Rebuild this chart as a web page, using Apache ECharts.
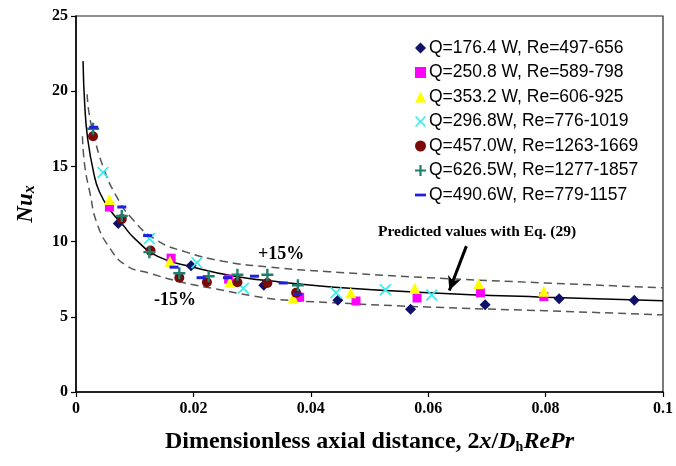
<!DOCTYPE html>
<html><head><meta charset="utf-8">
<script src="https://cdn.jsdelivr.net/npm/echarts@6/dist/echarts.min.js"></script>
<style>html,body{margin:0;padding:0;background:#fff}#c{width:676px;height:466px}</style>
</head><body><div id="c"></div>
<script>
// ---- data ----
const seriesNames = [
  'Q=176.4 W, Re=497-656',
  'Q=250.8 W, Re=589-798',
  'Q=353.2 W, Re=606-925',
  'Q=296.8W, Re=776-1019',
  'Q=457.0W, Re=1263-1669',
  'Q=626.5W, Re=1277-1857',
  'Q=490.6W, Re=779-1157'
];
const q176 = [[0.0072,11.2],[0.0196,8.4],[0.0320,7.1],[0.0446,6.1],[0.0570,5.5],[0.0697,5.8],[0.0823,6.2],[0.0951,6.1]];
const q250 = [[0.0057,12.3],[0.0162,8.9],[0.0260,7.5],[0.0381,6.3],[0.0477,6.05],[0.0581,6.25],[0.0689,6.6],[0.0797,6.35]];
const q353 = [[0.0057,12.8],[0.0160,8.7],[0.0262,7.3],[0.0370,6.25],[0.0468,6.6],[0.0577,6.9],[0.0686,7.2],[0.0797,6.7]];
const q296 = [[0.0046,14.6],[0.0125,10.2],[0.0206,8.6],[0.0285,6.9],[0.0443,6.6],[0.0527,6.8],[0.0606,6.45]];
const q457 = [[0.0029,17.0],[0.0078,11.5],[0.0127,9.4],[0.0176,7.6],[0.0223,7.3],[0.0275,7.3],[0.0326,7.25],[0.0375,6.6]];
const q626 = [[0.0029,17.5],[0.0078,11.7],[0.0125,9.3],[0.0176,7.9],[0.0226,7.7],[0.0275,7.8],[0.0326,7.8],[0.0378,7.1]];
const q490 = [[0.0030,17.6],[0.0078,12.3],[0.0122,10.4],[0.0167,8.3],[0.0213,7.6],[0.0258,7.6],[0.0304,7.7],[0.0353,7.25],[0.0378,6.5]];

const curveX = [0.0012,0.0015,0.002,0.003,0.004,0.006,0.008,0.010,0.014,0.02,0.027,0.035,0.043,0.06,0.08,0.1];
const curveY = [22,19.0,16.8,14.6,13.3,12.0,11.1,10.2,9.0,8.3,7.7,7.3,7.0,6.6,6.3,6.07];
const upperX = [0.0019,0.0022,0.0029,0.0046,0.0069,0.0096,0.0137,0.0188,0.025,0.033,0.043,0.06,0.08,0.1];
const upperY = [19.8,18.6,17.3,15.0,13.0,11.5,10.1,9.3,8.7,8.3,8.0,7.6,7.25,6.93];
const lowerX = [0.0011,0.0015,0.0024,0.0035,0.0057,0.0086,0.0125,0.018,0.0238,0.03,0.0345,0.043,0.06,0.08,0.1];
const lowerY = [17.0,15.0,13.2,11.3,9.6,8.4,7.9,7.3,6.85,6.4,6.15,5.95,5.65,5.4,5.13];

const xTicks = [0,0.02,0.04,0.06,0.08,0.1];
const yTicks = [0,5,10,15,20,25];

// ---- chart ----
const pair = (xs, ys) => xs.map((x,i)=>[x, ys[i]]);
const PLUS = 'path://M4,0H6V4H10V6H6V10H4V6H0V4H4Z';
const CROSS = 'path://M1,0L5,4L9,0L10,1L6,5L10,9L9,10L5,6L1,10L0,9L4,5L0,1Z';
const DASH = 'path://M0,0H10V3H0Z';
const styles = [
  {data:q176, symbol:'diamond', size:11, color:'#10106b'},
  {data:q250, symbol:'rect', size:9, color:'#ff00ff'},
  {data:q353, symbol:'triangle', size:11, color:'#ffff00'},
  {data:q296, symbol:CROSS, size:12, color:'#33eeee'},
  {data:q457, symbol:'circle', size:10, color:'#7a0a0a'},
  {data:q626, symbol:PLUS, size:12, color:'#1f7f6f'},
  {data:q490, symbol:DASH, size:[9,3], color:'#1f1fe0'}
];
const serif = '"Liberation Serif","Times New Roman",serif';
const sans = '"Liberation Sans",Arial,sans-serif';

const series = [
  {type:'line', name:'pred', data:pair(curveX,curveY), smooth:true, showSymbol:false, silent:true,
   lineStyle:{color:'#000', width:1.5}, z:1,
   markLine:{silent:true, symbol:['none','arrow'], symbolSize:[10,14],
     lineStyle:{color:'#000', width:3, type:'solid'}, label:{show:false},
     data:[[{coord:[0.0665,9.7]},{coord:[0.0636,6.75]}]]}},
  {type:'line', name:'up', data:pair(upperX,upperY), smooth:true, showSymbol:false, silent:true,
   lineStyle:{color:'#555', width:1.5, type:[8,5]}, z:1},
  {type:'line', name:'low', data:pair(lowerX,lowerY), smooth:true, showSymbol:false, silent:true,
   lineStyle:{color:'#555', width:1.5, type:[8,5]}, z:1}
];
styles.forEach((s,i)=>{
  series.push({type:'scatter', name:seriesNames[i], data:s.data, symbol:s.symbol, symbolSize:s.size,
    itemStyle:{color:s.color, opacity:1}, z:3});
});

const chart = echarts.init(document.getElementById('c'), null, {renderer:'canvas'});
chart.setOption({
  animation:false,
  backgroundColor:'#fff',
  grid:{left:76, right:7, top:16, bottom:74, show:true, borderColor:'#222', borderWidth:1.2, backgroundColor:'transparent'},
  xAxis:{type:'value', min:0, max:0.1, interval:0.02,
    axisLine:{show:true, onZero:false, lineStyle:{color:'#000', width:1.5}},
    axisTick:{show:true, length:5, lineStyle:{color:'#000', width:1.2}},
    splitLine:{show:false},
    axisLabel:{color:'#000', fontFamily:serif, fontWeight:'bold', fontSize:16, margin:9,
      formatter:v=>{const t=xTicks.find(k=>Math.abs(k-v)<1e-9); return t===undefined?'':String(t);}},
    name:'{a|Dimensionless axial distance, 2}{i|x}{a|/}{i|D}{s|h}{i|RePr}',
    nameLocation:'middle', nameGap:37,
    nameTextStyle:{rich:{
      a:{fontFamily:serif, fontWeight:'bold', fontSize:24, color:'#000'},
      i:{fontFamily:serif, fontWeight:'bold', fontStyle:'italic', fontSize:24, color:'#000'},
      s:{fontFamily:serif, fontWeight:'bold', fontSize:14, color:'#000', padding:[11,0,0,0]}
    }}},
  yAxis:{type:'value', min:0, max:25, interval:5,
    axisLine:{show:true, onZero:false, lineStyle:{color:'#000', width:1.5}},
    axisTick:{show:true, length:5, lineStyle:{color:'#000', width:1.2}},
    splitLine:{show:false},
    axisLabel:{color:'#000', fontFamily:serif, fontWeight:'bold', fontSize:16, margin:8,
      formatter:v=>{const t=yTicks.find(k=>Math.abs(k-v)<1e-9); return t===undefined?'':String(t);}},
    name:'{i|Nu}{s|x}', nameLocation:'middle', nameGap:38, nameRotate:90,
    nameTextStyle:{rich:{
      i:{fontFamily:serif, fontWeight:'bold', fontStyle:'italic', fontSize:23, color:'#000'},
      s:{fontFamily:serif, fontWeight:'bold', fontStyle:'italic', fontSize:16, color:'#000', padding:[8,0,0,0]}
    }}},
  legend:{show:true, orient:'vertical', left:411, top:37, itemGap:6.5, itemWidth:11, itemHeight:11,
    data:seriesNames.map((n,i)=>({name:n, icon: i===6 ? 'path://M0,4H10V6.5H0Z' : undefined})),
    textStyle:{fontFamily:sans, fontSize:17.5, color:'#000', padding:[0,0,0,-2]},
    backgroundColor:'#fff', padding:[2,4,2,4]},
  graphic:[
    {type:'text', left:258, top:245, style:{text:'+15%', font:'bold 18px '+serif, fill:'#000'}},
    {type:'text', left:154, top:291, style:{text:'-15%', font:'bold 18px '+serif, fill:'#000'}},
    {type:'text', left:378, top:224, style:{text:'Predicted values with Eq. (29)', font:'bold 15.5px '+serif, fill:'#000'}}
  ],
  series:series
});
</script></body></html>
